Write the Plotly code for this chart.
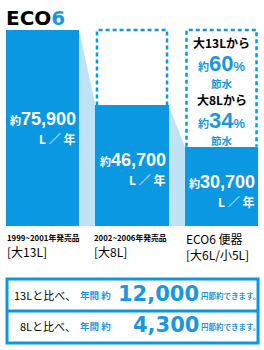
import plotly.graph_objects as go

# ---- data ----
categories = ["1999~2001年発売品", "2002~2006年発売品", "ECO6 便器"]
capacities = ["[大13L]", "[大8L]", "[大6L/小5L]"]
usage = [75900, 46700, 30700]          # L / year
save_pct = [60, 34]                    # % saving vs 13L, vs 8L
compare_L = ["13L", "8L"]
yen_saved = [12000, 4300]              # yen / year

# ---- style ----
W, H = 264, 350
BLUE = "#0b98e3"
LIGHT = "#bfe2f6"
TBLUE = "#1799e2"
CJK = "Noto Sans CJK JP"
NUM = "Liberation Sans"

xs = list(range(len(categories)))
bw = 0.816
k = 196 / usage[0]          # px per litre
base_px = 226
yr = [-(H - base_px) / k, base_px / k]
xr = [-42.5 / 89.5, (W - 42.5) / 89.5]

fig = go.Figure()
fig.add_trace(go.Bar(x=xs, y=usage, width=bw, marker=dict(color=BLUE, line=dict(width=0)),
                     hoverinfo="skip", showlegend=False))
fig.add_trace(go.Scatter(x=[0], y=[0], xaxis="x2", yaxis="y2", mode="markers",
                         marker=dict(opacity=0), hoverinfo="skip", showlegend=False))

shapes = []
# light connectors
for i in range(len(usage) - 1):
    x0 = i + bw / 2
    x1 = i + 1 - bw / 2
    shapes.append(dict(type="path", xref="x", yref="y", layer="below",
                       path=f"M {x0},{usage[i]} L {x1},{usage[i+1]} L {x1},0 L {x0},0 Z",
                       fillcolor=LIGHT, line=dict(width=0)))
# dashed outlines showing old usage
ins = 1.5 / 89.5
for i in range(1, len(usage)):
    x0 = i - bw / 2 + ins
    x1 = i + bw / 2 - ins
    shapes.append(dict(type="path", xref="x", yref="y", layer="above",
                       path=f"M {x0},{usage[i]} L {x0},{usage[0]} L {x1},{usage[0]} L {x1},{usage[i]}",
                       line=dict(color=BLUE, width=2.5, dash="4px,3px")))
# bottom box
shapes.append(dict(type="rect", xref="x2", yref="y2", x0=7, x1=258, y0=279, y1=343,
                   line=dict(color=BLUE, width=3), fillcolor="rgba(0,0,0,0)"))
shapes.append(dict(type="line", xref="x2", yref="y2", x0=7, x1=258, y0=311, y1=311,
                   line=dict(color=BLUE, width=3)))

ann = []


def A(text, x, y, size, color="black", family=CJK, xanchor="center", xref="x2", yref="y2",
      xshift=0, align="center"):
    ann.append(dict(text=text, x=x, y=y, xref=xref, yref=yref, xanchor=xanchor, yanchor="middle",
                    showarrow=False, xshift=xshift, borderpad=0, align=align,
                    font=dict(size=size, color=color, family=family)))


# title
A(f"<b>ECO<span style='color:{TBLUE}'>6</span></b>", 5, 17.5, 20, family="DejaVu Sans", xanchor="left")

# bar value labels
val_y = [(119, 138), (160, 179), (182, 201)]
for i, v in enumerate(usage):
    A(f"<span style='font-family:{CJK};font-size:11px'><b>約</b></span><b>{v:,}</b>",
      i + bw / 2, val_y[i][0], 18, color="white", family=NUM, xanchor="right", xref="x", xshift=-2)
    A("<b>L ／ 年</b>", i + bw / 2, val_y[i][1], 12, color="white", xanchor="right", xref="x", xshift=-3)

# under-bar labels (two lines each)
for i, c in enumerate(categories):
    big = c.startswith("ECO")
    first = c if big else f"<span style='font-size:7.8px'><b>{c}</b></span>"
    A(f"{first}<br>{capacities[i]}", i - bw / 2, 246, 12, xanchor="left", xref="x",
      align="left", xshift=0 if (big or i == 0) else -2)

# saving percentages in right dashed box
ys = [(42, 63, 83), (99, 120, 140)]
for j, p in enumerate(save_pct):
    A(f"<b>大{compare_L[j]}から</b>", 2, ys[j][0], 12, xref="x")
    A(f"<span style='font-family:{CJK};font-size:11px'><b>約</b></span><b>{p}</b>"
      f"<span style='font-size:13px'><b>%</b></span>",
      2, ys[j][1], 22, color=TBLUE, family=NUM, xref="x")
    A("<b>節水</b>", 2, ys[j][2], 10.5, color=TBLUE, xref="x")

# bottom statements
line_y = [295, 326]
for j, yen in enumerate(yen_saved):
    A(f"{compare_L[j]}と比べ、", 77, line_y[j], 11, xanchor="right")
    A("<b>年間 約</b>", 79, line_y[j], 9.5, color=TBLUE, xanchor="left")
    A(f"<b>{yen:,}</b>", 200, line_y[j] - 1, 21, color=TBLUE, family="DejaVu Sans", xanchor="right")
    A("<b>円節約できます。</b>", 200, line_y[j], 7.5, color=TBLUE, xanchor="left")

fig.update_layout(
    width=W, height=H, margin=dict(l=0, r=0, t=0, b=0),
    paper_bgcolor="white", plot_bgcolor="white",
    xaxis=dict(range=xr, visible=False, fixedrange=True),
    yaxis=dict(range=yr, visible=False, fixedrange=True),
    xaxis2=dict(range=[0, W], visible=False, overlaying="x", fixedrange=True),
    yaxis2=dict(range=[H, 0], visible=False, overlaying="y", fixedrange=True),
    shapes=shapes, annotations=ann, bargap=0,
)
fig.write_html("out.html")
